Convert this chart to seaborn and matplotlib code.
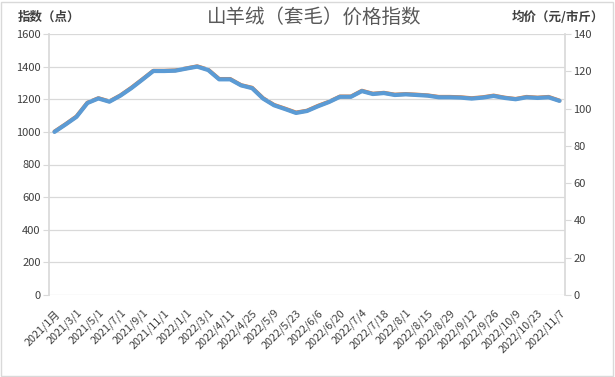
import matplotlib
matplotlib.use("Agg")
import matplotlib.pyplot as plt
import seaborn as sns
import pandas as pd
import numpy as np
from matplotlib.patches import Rectangle

# ---- data ----
categories = [
    "2021/1/1", "2021/2/1", "2021/3/1", "2021/4/1", "2021/5/1", "2021/6/1",
    "2021/7/1", "2021/8/1", "2021/9/1", "2021/10/1", "2021/11/1", "2021/12/1",
    "2022/1/1", "2022/2/1", "2022/3/1", "2022/4/1", "2022/4/11", "2022/4/18",
    "2022/4/25", "2022/5/2", "2022/5/9", "2022/5/16", "2022/5/23", "2022/5/30",
    "2022/6/6", "2022/6/13", "2022/6/20", "2022/6/27", "2022/7/4", "2022/7/11",
    "2022/7/18", "2022/7/25", "2022/8/1", "2022/8/8", "2022/8/15", "2022/8/22",
    "2022/8/29", "2022/9/5", "2022/9/12", "2022/9/19", "2022/9/26", "2022/10/2",
    "2022/10/9", "2022/10/16", "2022/10/23", "2022/10/31", "2022/11/7",
]
index_values = [
    1000, 1045, 1092, 1177, 1205, 1185, 1222, 1268, 1320, 1373, 1373, 1375,
    1388, 1400, 1379, 1322, 1322, 1285, 1268, 1204, 1163, 1140, 1116, 1128,
    1157, 1183, 1215, 1215, 1250, 1232, 1238, 1226, 1230, 1226, 1222, 1212,
    1212, 1210, 1204, 1210, 1220, 1208, 1200, 1212, 1208, 1212, 1190,
]
price_values = [
    87.7, 91.6, 95.8, 103.2, 105.6, 103.9, 107.1, 111.2, 115.7, 120.3, 120.3, 120.5,
    121.6, 122.7, 120.9, 115.9, 115.9, 112.6, 111.2, 105.6, 102.0, 100.0, 97.9, 98.9,
    101.5, 103.7, 106.5, 106.5, 109.6, 108.0, 108.5, 107.5, 107.8, 107.5, 107.1, 106.3,
    106.3, 106.1, 105.6, 106.1, 107.0, 105.9, 105.2, 106.3, 105.9, 106.3, 104.3,
]
x_tick_labels = [
    "2021/1月", "2021/3/1", "2021/5/1", "2021/7/1", "2021/9/1", "2021/11/1",
    "2022/1/1", "2022/3/1", "2022/4/11", "2022/4/25", "2022/5/9", "2022/5/23",
    "2022/6/6", "2022/6/20", "2022/7/4", "2022/7/18", "2022/8/1", "2022/8/15",
    "2022/8/29", "2022/9/12", "2022/9/26", "2022/10/9", "2022/10/23", "2022/11/7",
]
left_ticks = [0, 200, 400, 600, 800, 1000, 1200, 1400, 1600]
right_ticks = [0, 20, 40, 60, 80, 100, 120, 140]

df = pd.DataFrame({"pos": np.arange(len(categories)), "date": categories,
                   "index": index_values, "price": price_values})

sns.set_theme(style="white")
plt.rcParams["font.family"] = ["Noto Sans CJK SC", "DejaVu Sans"]

fig = plt.figure(figsize=(6.15, 3.77), dpi=100)
ax = fig.add_axes([49/615, 1-295/377, (565-49)/615, (295-34)/377])
ax2 = ax.twinx()

blue = "#5B9BD5"
orange = "#ED7D31"
grid = "#D9D9D9"
txt = "#404040"

sns.lineplot(data=df, x="pos", y="price", ax=ax2, color=orange, linewidth=2.8)
sns.lineplot(data=df, x="pos", y="index", ax=ax, color=blue, linewidth=3.0)

ax.set_zorder(ax2.get_zorder() + 1)
ax.patch.set_visible(False)

n = len(categories)
ax.set_xlim(-0.5, n - 0.5)
ax.set_ylim(0, 1600)
ax2.set_ylim(0, 140)
ax.set_yticks(left_ticks)
ax2.set_yticks(right_ticks)
ax.set_yticklabels([str(t) for t in left_ticks], fontsize=8, color=txt)
ax2.set_yticklabels([str(t) for t in right_ticks], fontsize=8, color=txt)

ax.set_xticks(np.arange(0, n, 2))
ax.set_xticklabels(x_tick_labels, rotation=45, ha="right", rotation_mode="anchor",
                   fontsize=7.8, color=txt)
ax.tick_params(axis="x", length=0, pad=9)
ax.tick_params(axis="y", length=4, color=grid, width=0.8, pad=2)
ax2.tick_params(axis="y", length=4, color=grid, width=0.8, pad=2)

for a in (ax, ax2):
    a.set_xlabel("")
    a.set_ylabel("")
    for s in a.spines.values():
        s.set_visible(False)
ax.spines["left"].set_visible(True)
ax.spines["left"].set_color(grid)
ax2.spines["right"].set_visible(True)
ax2.spines["right"].set_color(grid)

ax.yaxis.grid(True, color=grid, linewidth=0.9)
ax.set_axisbelow(True)

fig.text(0.51, 0.955, "山羊绒（套毛）价格指数", ha="center", va="center",
         fontsize=14, color="#595959")
fig.text(18/615, 0.955, "指数（点）", ha="left", va="center", fontsize=9,
         fontweight="bold", color=txt)
fig.text(604/615, 0.955, "均价（元/市斤）", ha="right", va="center", fontsize=9,
         fontweight="bold", color=txt)

fig.patches.append(Rectangle((0.002, 0.003), 0.995, 0.993, transform=fig.transFigure,
                             fill=False, edgecolor=grid, linewidth=1.0))

fig.savefig("out.png", dpi=100)
